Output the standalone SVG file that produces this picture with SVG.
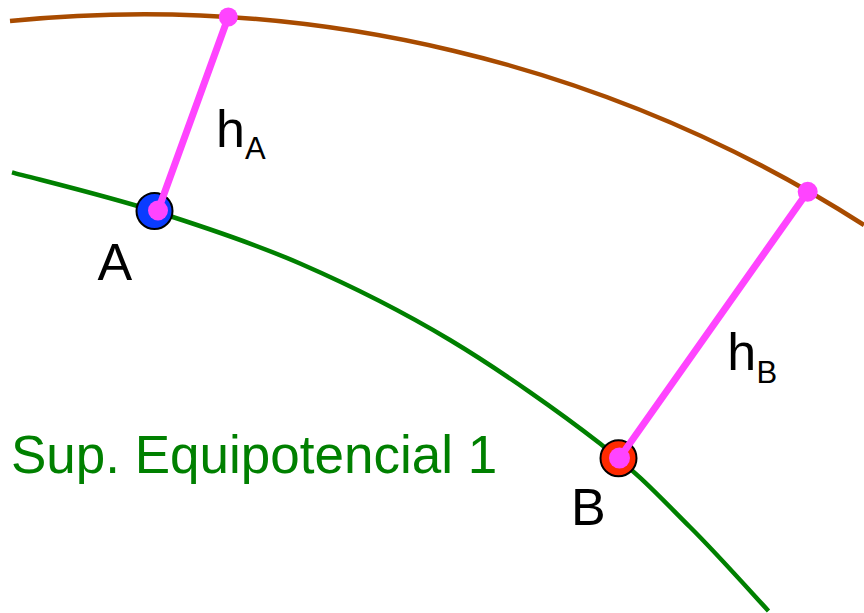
<svg xmlns="http://www.w3.org/2000/svg" width="864" height="613" viewBox="0 0 864 613">
<style>
.lbl{font-family:"Liberation Sans",Arial,sans-serif;fill:#000}
.big{font-size:52px}
.sub{font-size:31px}
.curve{fill:none;stroke-width:4.5}
.h{stroke:#ff44ff;stroke-width:7;stroke-linecap:round}
.dot{fill:#ff44ff}
.pt{stroke:#000;stroke-width:2}
</style>
<rect width="864" height="613" fill="#fff"/>
<g id="connectors">
<path id="surface2" class="curve" stroke="#a84b00" d="M 10 21 A 1338 1338 0 0 1 864 225"/>
<path id="surface1" class="curve" stroke="#008000" d="M 12 172.3 C 35.7 178.8 106 195.8 154 211 C 202 226.2 250.7 242 300 263.5 C 349.3 285 400 310 450 340 C 500 370 560 412.3 600 443.5 C 640 474.7 661.9 499.1 690 527 C 718.1 554.9 755.4 597 768.5 611"/>
</g>
<g id="nodeA">
<circle class="pt" cx="154.5" cy="211" r="18" fill="#0a3cff"/>
<line class="h" x1="158" y1="210.5" x2="228.3" y2="17"/>
<circle class="dot" cx="158" cy="210.5" r="10"/>
<circle class="dot" cx="228.3" cy="17" r="9.5"/>
<text class="lbl big" x="97.5" y="280">A</text>
<text class="lbl" x="216" y="146.7"><tspan class="big">h</tspan><tspan class="sub" x="245" y="159.3">A</tspan></text>
</g>
<g id="nodeB">
<circle class="pt" cx="618.5" cy="458.3" r="18" fill="#ff2a00"/>
<line class="h" x1="619.5" y1="458" x2="807.7" y2="191.7"/>
<circle class="dot" cx="619.5" cy="458" r="10.5"/>
<circle class="dot" cx="807.7" cy="191.7" r="10"/>
<text class="lbl big" x="571" y="525">B</text>
<text class="lbl" x="727.3" y="370"><tspan class="big">h</tspan><tspan class="sub" x="756.5" y="383.3">B</tspan></text>
</g>
<g id="label1">
<text x="11" y="472.5" style="font-family:'Liberation Sans',Arial,sans-serif;font-size:53px;fill:#008000">Sup. Equipotencial 1</text>
</g>
</svg>
